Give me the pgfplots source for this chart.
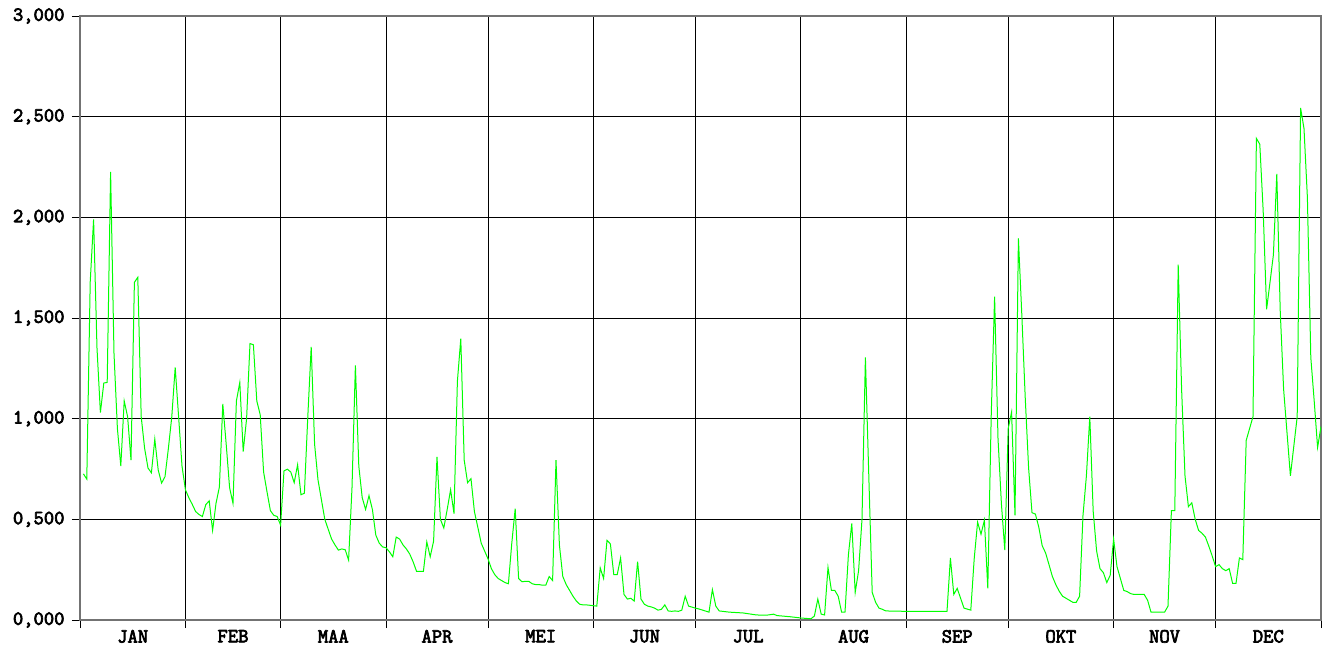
\documentclass[border=0pt]{standalone}
\usepackage{fontspec}
\setmainfont{Liberation Sans}
\newfontfamily\courbold{Latin Modern Mono}[FakeBold=3.5]
\usepackage{pgfplots}
\pgfplotsset{compat=1.18}
\definecolor{linegreen}{RGB}{0,255,0}
\begin{document}
\begin{tikzpicture}
\useasboundingbox (-80pt,-25pt) rectangle (1249pt,620pt);
\begin{axis}[
  at={(0pt,0pt)}, anchor=south west,
  scale only axis, width=1241pt, height=604pt,
  xmin=0, xmax=365, ymin=0, ymax=3000,
  xtick={0,31,59,90,120,151,181,212,243,273,304,334,365},
  xticklabels={JAN,FEB,MAA,APR,MEI,JUN,JUL,AUG,SEP,OKT,NOV,DEC,},
  x tick label as interval,
  ytick={0,500,1000,1500,2000,2500,3000},
  yticklabels={{0,000},{0,500},{1,000},{1,500},{2,000},{2,500},{3,000}},
  xtick pos=bottom, ytick pos=left,
  tick align=outside, major tick length=8pt,
  tick style={black, line width=0.8pt},
  grid=major, major grid style={black, line width=0.8pt},
  axis line style={black!55, line width=1.2pt},
  ticklabel style={font=\fontsize{20}{22}\selectfont\courbold},
  yticklabel style={xshift=-4pt},
  xticklabel style={yshift=1.5pt},
  clip=true,
]
\addplot[linegreen, line width=1pt] table {
x y
1 726
2 700
3 1677
4 1990
5 1350
6 1030
7 1177
8 1180
9 2226
10 1324
11 951
12 765
13 1088
14 1010
15 794
16 1677
17 1702
18 1010
19 853
20 755
21 731
22 898
23 745
24 680
25 712
26 853
27 1010
28 1255
29 1010
30 765
31 647
32 608
33 575
34 539
35 524
36 514
37 573
38 592
39 445
40 579
41 661
42 1073
43 873
44 657
45 579
46 1088
47 1180
48 837
49 1000
50 1373
51 1367
52 1088
53 1020
54 735
55 637
56 543
57 520
58 514
59 471
60 741
61 749
62 735
63 682
64 771
65 622
66 630
67 1010
68 1357
69 873
70 696
71 598
72 500
73 451
74 402
75 373
76 347
77 353
78 349
79 298
80 657
81 1265
82 765
83 608
84 549
85 618
86 549
87 422
88 382
89 363
90 359
91 339
92 314
93 412
94 402
95 373
96 353
97 327
98 288
99 241
100 241
101 241
102 388
103 314
104 392
105 810
106 500
107 457
108 549
109 647
110 529
111 1186
112 1398
113 794
114 682
115 702
116 539
117 461
118 382
119 343
120 304
121 255
122 225
123 206
124 196
125 186
126 180
127 382
128 553
129 206
130 190
131 192
132 192
133 180
134 176
135 176
136 173
137 173
138 216
139 196
140 794
141 373
142 216
143 176
144 147
145 118
146 94
147 78
148 75
149 75
150 73
151 71
152 69
153 259
154 206
155 396
156 378
157 225
158 225
159 308
160 127
161 104
162 108
163 94
164 290
165 104
166 78
167 69
168 65
169 59
170 49
171 53
172 75
173 45
174 43
175 45
176 43
177 49
178 118
179 69
181 59
182 55
185 39
186 151
187 69
188 45
191 39
195 35
199 25
202 24
204 29
205 22
209 16
212 10
215 6
216 20
217 104
218 29
219 25
220 261
221 147
222 147
223 118
224 39
225 39
226 324
227 480
228 137
229 245
230 500
231 1304
232 716
233 137
234 88
235 59
236 53
237 45
243 43
255 43
256 308
257 127
258 157
259 108
260 59
262 49
263 304
264 486
265 426
266 496
267 157
268 1010
269 1606
270 902
271 578
272 347
273 951
274 1033
275 520
276 1896
277 1518
278 1108
279 755
280 533
281 526
282 461
283 369
284 333
285 275
286 216
287 176
288 143
289 118
290 108
291 98
292 88
293 88
294 118
295 520
296 716
297 1010
298 539
299 343
300 255
301 235
302 186
303 222
304 402
305 265
306 206
307 147
308 141
309 131
310 127
311 127
313 127
314 98
315 39
319 39
320 69
321 543
322 543
323 1765
324 1147
325 716
326 563
327 582
328 500
329 445
330 431
331 412
332 367
333 318
334 265
335 275
336 255
337 245
338 255
339 182
340 182
341 308
342 300
343 892
344 951
345 1010
346 2392
347 2363
348 2030
349 1543
350 1677
351 1814
352 2216
353 1539
354 1147
355 931
356 716
357 863
358 1010
359 2543
360 2441
361 2098
362 1304
363 1088
364 857
365 961
};
\end{axis}
\end{tikzpicture}
\end{document}
